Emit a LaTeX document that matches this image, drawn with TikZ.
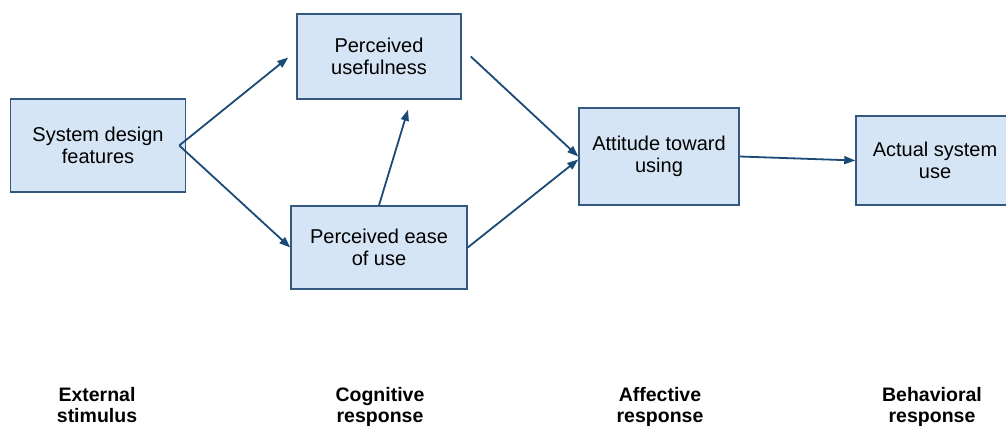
\documentclass[tikz,border=0pt]{standalone}
\usepackage{fontspec}
\setmainfont{Liberation Sans}
\usepackage{tikz}
\definecolor{tamfill}{RGB}{214, 229, 245}
\definecolor{tamedge}{RGB}{52, 88, 128}
\definecolor{tamarrow}{RGB}{28, 74, 118}
\usetikzlibrary{
  arrows.meta,
  calc,
  positioning,
}
\tikzset{
  >={Triangle[length=11pt,width=8pt]},
  tambox/.style={draw=tamedge,line width=1.5pt,fill=tamfill,rectangle,align=center,
    font=\fontsize{20}{22.5}\selectfont},
  tamlabel/.style={align=center,inner sep=0pt,font=\fontsize{19.5}{21.5}\selectfont\bfseries},
  tamlink/.style={->,draw=tamarrow,line width=1.8pt},
}

\begin{document}
\begin{tikzpicture}[x=1pt,y=1pt]
      \useasboundingbox (0,0) rectangle (1006,428);

      \node[tambox,minimum width=175,minimum height=93] (sys)    at (98,282.5)  {System design\\features};
      \node[tambox,minimum width=164,minimum height=85] (useful) at (379,371.5) {Perceived\\usefulness};
      \node[tambox,minimum width=176,minimum height=83] (ease)   at (379,180.5) {Perceived ease\\of use};
      \node[tambox,minimum width=160,minimum height=97] (att)    at (659,271.5) {Attitude toward\\using};
      \node[tambox,minimum width=158,minimum height=89] (act)    at (935,267.5) {Actual system\\use};

      \draw[tamlink] ([xshift=-7]sys.east) -- ([xshift=-8,yshift=-1]useful.west);
      \draw[tamlink] ([xshift=-7]sys.east) -- (ease.west);
      \draw[tamlink] (ease.north) -- ([xshift=29,yshift=-10]useful.south);
      \draw[tamlink] ([xshift=9]useful.east) -- (att.west);
      \draw[tamlink] (ease.east) -- ([yshift=-3]att.west);
      \draw[tamlink] (att.east) -- (act.west);

      \node[tamlabel] (stim) at (97,20)  {External\\stimulus\strut};
      \node[tamlabel] (cog)  at (380,20) {Cognitive\\response\strut};
      \node[tamlabel] (aff)  at (660,20) {Affective\\response\strut};
      \node[tamlabel] (beh)  at (932,20) {Behavioral\\response\strut};
    \end{tikzpicture}
\end{document}
